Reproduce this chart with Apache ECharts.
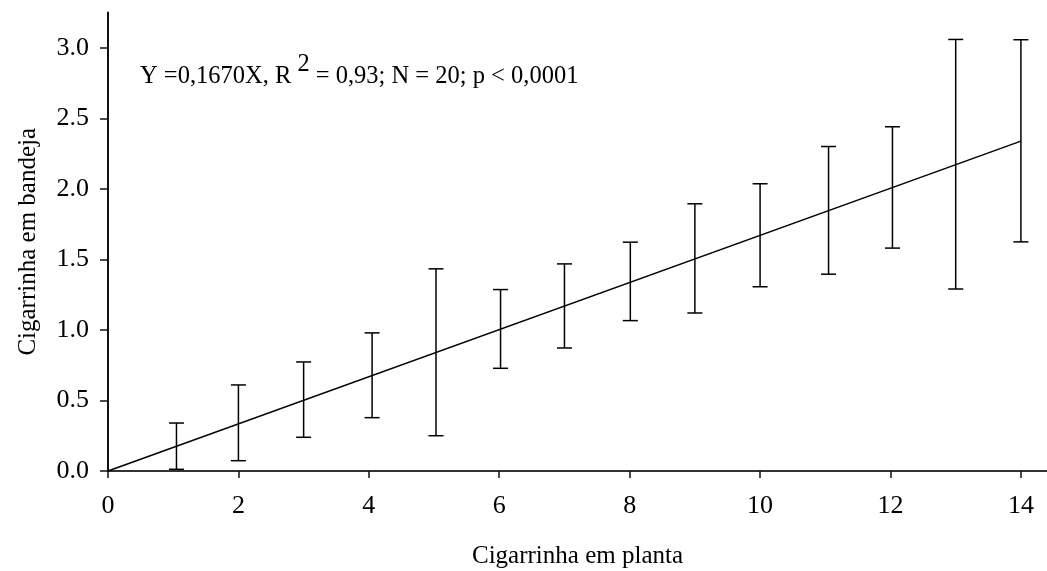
<!DOCTYPE html>
<html>
<head>
<meta charset="utf-8">
<script src="https://cdn.jsdelivr.net/npm/echarts@6/dist/echarts.min.js"></script>
<style>
html,body{margin:0;padding:0;background:#fff;}
#chart{width:1047px;height:571px;}
</style>
</head>
<body>
<div id="chart"></div>
<script>
// Data
var xValues = [1.05, 2, 3, 4.05, 5.03, 6.02, 7, 8.01, 9, 10, 11.05, 12.03, 13, 14];
var lowValues = [0.012, 0.073, 0.239, 0.378, 0.25, 0.728, 0.872, 1.066, 1.12, 1.306, 1.395, 1.58, 1.29, 1.624];
var highValues = [0.34, 0.61, 0.773, 0.979, 1.433, 1.286, 1.468, 1.622, 1.894, 2.036, 2.30, 2.44, 3.059, 3.057];
var fitLine = [[0, 0], [14, 2.338]];
var xTicks = [0, 2, 4, 6, 8, 10, 12, 14];
var yTicks = [0, 0.5, 1.0, 1.5, 2.0, 2.5, 3.0];
var xTitle = 'Cigarrinha em planta';
var yTitle = 'Cigarrinha em bandeja';

var errData = xValues.map(function (x, i) { return [x, lowValues[i], highValues[i]]; });
var FONT = 'Liberation Serif';

var chart = echarts.init(document.getElementById('chart'));
chart.setOption({
  animation: false,
  backgroundColor: '#fff',
  grid: { left: 108, right: 0, top: 12.5, bottom: 100, containLabel: false, outerBoundsMode: 'none' },
  xAxis: [{
    type: 'value', min: 0, max: 14.4, position: 'bottom',
    name: xTitle, nameLocation: 'middle', nameGap: 73,
    nameTextStyle: { fontFamily: FONT, fontSize: 25, color: '#000' },
    axisLine: { show: true, onZero: false, lineStyle: { color: '#111', width: 2 } },
    axisTick: { show: true, inside: false, length: 7, customValues: xTicks, lineStyle: { color: '#111', width: 1.5 } },
    axisLabel: { customValues: xTicks, margin: 22, fontFamily: FONT, fontSize: 26, color: '#000',
      formatter: function (v) { return String(v); } },
    splitLine: { show: false }
  }, {
    type: 'value', min: 0, max: 14.4, position: 'top',
    axisLine: { show: true, lineStyle: { color: '#333', width: 2 } },
    axisTick: { show: false }, axisLabel: { show: false }, splitLine: { show: false }
  }],
  yAxis: {
    type: 'value', min: 0, max: 3.25,
    name: yTitle, nameLocation: 'middle', nameGap: 67, nameRotate: 90,
    nameTextStyle: { fontFamily: FONT, fontSize: 25, color: '#000' },
    axisLine: { show: true, onZero: false, lineStyle: { color: '#111', width: 2 } },
    axisTick: { show: true, inside: false, length: 8, customValues: yTicks, lineStyle: { color: '#111', width: 1.5 } },
    axisLabel: { customValues: yTicks, margin: 19, fontFamily: FONT, fontSize: 26, color: '#000',
      formatter: function (v) { return v.toFixed(1); } },
    splitLine: { show: false }
  },
  series: [{
    type: 'line', data: fitLine, symbol: 'none',
    lineStyle: { color: '#000', width: 1.5 }, z: 3
  }, {
    type: 'custom', data: errData, z: 4,
    renderItem: function (params, api) {
      var x = api.value(0);
      var lo = api.coord([x, api.value(1)]);
      var hi = api.coord([x, api.value(2)]);
      var hw = 7.5;
      var st = { stroke: '#000', lineWidth: 1.5, fill: null };
      return {
        type: 'group',
        children: [
          { type: 'line', shape: { x1: lo[0], y1: lo[1], x2: hi[0], y2: hi[1] }, style: st },
          { type: 'line', shape: { x1: hi[0] - hw, y1: hi[1], x2: hi[0] + hw, y2: hi[1] }, style: st },
          { type: 'line', shape: { x1: lo[0] - hw, y1: lo[1], x2: lo[0] + hw, y2: lo[1] }, style: st }
        ]
      };
    }
  }],
  graphic: [{
    type: 'text', left: 140, top: 52,
    style: {
      text: '{a|Y =0,1670X, R }{s|2}{a| = 0,93; N = 20; p < 0,0001}',
      rich: {
        a: { fontFamily: FONT, fontSize: 24.5, fill: '#000' },
        s: { fontFamily: FONT, fontSize: 24.5, fill: '#000', padding: [0, 0, 24, 0] }
      }
    }
  }]
});
</script>
</body>
</html>
